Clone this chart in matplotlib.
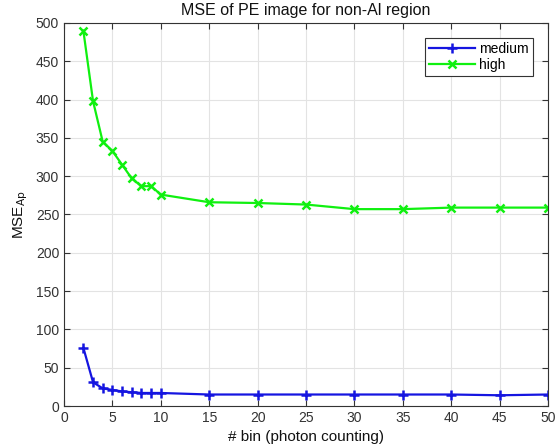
import numpy as np
import matplotlib.pyplot as plt

plt.rcParams['font.family'] = ['Liberation Sans', 'DejaVu Sans']

bins = [2, 3, 4, 5, 6, 7, 8, 9, 10, 15, 20, 25, 30, 35, 40, 45, 50]
mse_medium = [76, 31, 23, 21, 19, 18, 17, 17, 17, 15, 15, 15, 15, 15, 15, 14, 15]
mse_high = [490, 398, 345, 333, 315, 297, 287, 287, 276, 266, 265, 263, 257, 257, 259, 259, 259]

fig = plt.figure(figsize=(5.59, 4.48), dpi=100)
ax = fig.add_axes([64 / 559, 1 - 406 / 448, (548 - 64) / 559, (406 - 23) / 448])

ax.plot(bins, mse_medium, color='#1515e0', lw=1.6, marker='+', ms=7, mew=1.8, label='medium')
ax.plot(bins, mse_high, color='#10f010', lw=1.6, marker='x', ms=6, mew=1.8, label='high')

ax.set_xlim(0, 50)
ax.set_ylim(0, 500)
ax.set_xticks(np.arange(0, 51, 5))
ax.set_yticks(np.arange(0, 501, 50))
ax.grid(True, color='#e3e3e3', lw=0.8)
ax.set_axisbelow(True)
ax.tick_params(direction='in', top=True, right=True, labelsize=10, colors='#333333', length=4)
for s in ax.spines.values():
    s.set_color('#333333')
    s.set_linewidth(0.8)

ax.set_title('MSE of PE image for non-Al region', fontsize=11.5, color='#111111', pad=6)
ax.set_xlabel('# bin (photon counting)', fontsize=11, color='#111111')
ax.set_ylabel('MSE$_{\\mathrm{Ap}}$', fontsize=11, color='#111111')

leg = ax.legend(loc='upper right', fontsize=10, fancybox=False, framealpha=1,
                edgecolor='#333333', bbox_to_anchor=(0.969, 0.961), borderaxespad=0,
                handlelength=3.3, labelspacing=0.15, borderpad=0.3, handletextpad=0.3)
leg.get_frame().set_linewidth(0.8)

fig.savefig('out.png', dpi=100)
